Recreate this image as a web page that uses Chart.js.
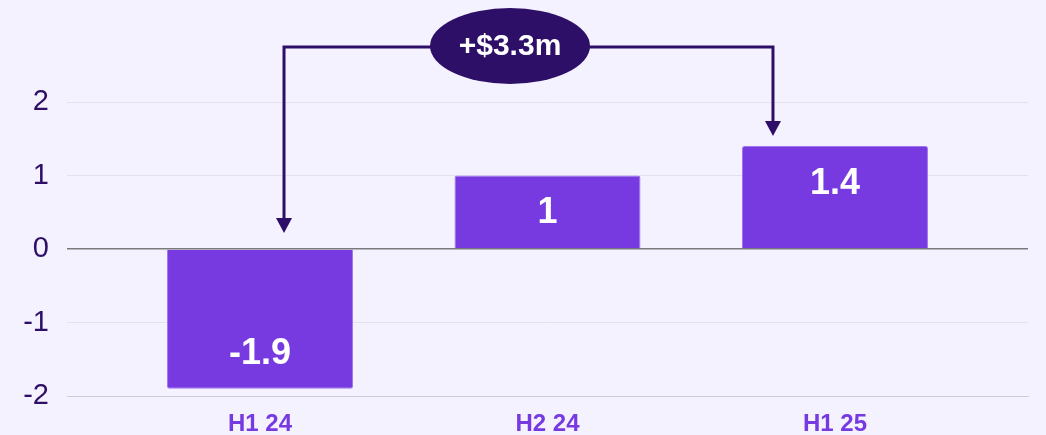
<!DOCTYPE html>
<html><head><meta charset="utf-8">
<script src="https://cdn.jsdelivr.net/npm/chart.js@4/dist/chart.umd.min.js"></script>
<style>
html,body{margin:0;padding:0;background:#f4f2fe;}
#wrap{width:1046px;height:435px;position:relative;}
</style></head>
<body><div id="wrap"><canvas id="c" width="1046" height="435"></canvas></div>
<script>
const categories = ['H1 24', 'H2 24', 'H1 25'];
const values = [-1.9, 1, 1.4];
const yTicks = [-2, -1, 0, 1, 2];
const deltaLabel = '+$3.3m';
const deltaFrom = 0;   // index of start bar
const deltaTo = 2;     // index of end bar

const FONT = "'Liberation Sans', Arial, sans-serif";
const BAR = 'rgb(119,58,224)';
const DARK = 'rgb(46,15,104)';

const valueLabels = {
  id: 'valueLabels',
  afterDatasetsDraw(chart) {
    const ctx = chart.ctx;
    const meta = chart.getDatasetMeta(0);
    ctx.save();
    ctx.fillStyle = '#ffffff';
    ctx.font = 'bold 36px ' + FONT;
    ctx.textAlign = 'center';
    ctx.textBaseline = 'middle';
    meta.data.forEach((bar, i) => {
      const v = values[i];
      const y = v >= 0 ? bar.y + 38 : bar.y - 35;
      ctx.fillText(String(v), bar.x, y);
    });
    ctx.restore();
  }
};

const deltaArrow = {
  id: 'deltaArrow',
  afterDraw(chart) {
    const ctx = chart.ctx;
    const xs = chart.scales.x, ys = chart.scales.y;
    const ca = chart.chartArea;
    const x0 = xs.getPixelForValue(deltaFrom) + 24;
    const x1 = xs.getPixelForValue(deltaTo) - 62;
    const yTop = ca.top - 55;
    const tip0 = ys.getPixelForValue(Math.max(0, values[deltaFrom])) - 16;
    const tip1 = ys.getPixelForValue(Math.max(0, values[deltaTo])) - 10;
    ctx.save();
    ctx.strokeStyle = DARK;
    ctx.fillStyle = DARK;
    ctx.lineWidth = 3;
    ctx.lineJoin = 'miter';
    ctx.beginPath();
    ctx.moveTo(x0, tip0 - 14);
    ctx.lineTo(x0, yTop);
    ctx.lineTo(x1, yTop);
    ctx.lineTo(x1, tip1 - 14);
    ctx.stroke();
    [[x0, tip0], [x1, tip1]].forEach(([x, t]) => {
      ctx.beginPath();
      ctx.moveTo(x - 8, t - 15);
      ctx.lineTo(x + 8, t - 15);
      ctx.lineTo(x, t);
      ctx.closePath();
      ctx.fill();
    });
    const ex = x0 + 226, ey = yTop - 1;
    ctx.beginPath();
    ctx.ellipse(ex, ey, 80, 38, 0, 0, Math.PI * 2);
    ctx.fill();
    ctx.fillStyle = '#ffffff';
    ctx.font = 'bold 30px ' + FONT;
    ctx.textAlign = 'center';
    ctx.textBaseline = 'middle';
    ctx.fillText(deltaLabel, ex, ey + 1);
    ctx.restore();
  }
};

new Chart(document.getElementById('c'), {
  type: 'bar',
  data: {
    datasets: [{
      data: values.map((v, i) => ({ x: i, y: v })),
      backgroundColor: BAR,
      borderColor: 'rgb(160,120,240)',
      borderWidth: 1,
      borderRadius: 2,
      categoryPercentage: 1,
      barPercentage: 0.647
    }]
  },
  options: {
    responsive: false,
    animation: false,
    events: [],
    layout: { padding: { top: 102, right: 18, left: 0, bottom: 0 } },
    plugins: { legend: { display: false }, tooltip: { enabled: false } },
    scales: {
      x: {
        type: 'linear',
        offset: false,
        min: -0.6714,
        max: 2.6714,
        afterBuildTicks(s) { s.ticks = categories.map((c, i) => ({ value: i })); },
        afterFit(s) { s.height = 39; },
        grid: { display: false, drawTicks: false },
        border: { display: true, color: '#cfcbd8', width: 1 },
        ticks: {
          padding: 14,
          autoSkip: false,
          maxRotation: 0,
          color: 'rgb(119,58,224)',
          font: { family: FONT, size: 24, weight: 'bold' },
          callback: (v) => categories[v] ?? ''
        }
      },
      y: {
        min: -2,
        max: 2,
        afterBuildTicks(s) { s.ticks = yTicks.map(v => ({ value: v })); },
        afterFit(s) { s.width = 67; },
        border: { display: false },
        grid: {
          drawTicks: false,
          color: (c) => c.tick && c.tick.value === 0 ? '#7a7a7a' : '#e4e1ee',
          lineWidth: (c) => c.tick && c.tick.value === 0 ? 1.5 : 1
        },
        ticks: {
          padding: 18,
          color: DARK,
          font: { family: FONT, size: 29 }
        }
      }
    }
  },
  plugins: [valueLabels, deltaArrow]
});
</script></body></html>
